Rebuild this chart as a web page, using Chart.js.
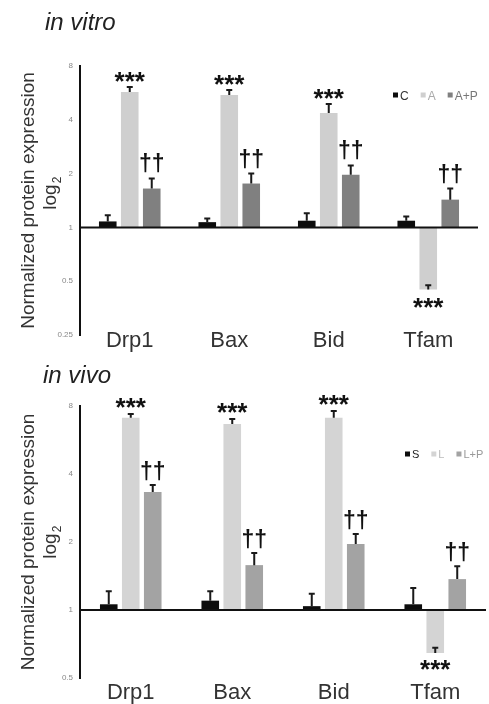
<!DOCTYPE html>
<html><head><meta charset="utf-8">
<script src="https://cdn.jsdelivr.net/npm/chart.js@4.4.1/dist/chart.umd.min.js"></script>
<style>
html,body{margin:0;padding:0;background:#fff;width:489px;height:704px;overflow:hidden}
canvas{position:absolute;left:0}
#c1{top:0}
#c2{top:355px}
</style></head><body>
<canvas id="c1" width="489" height="355"></canvas>
<canvas id="c2" width="489" height="349"></canvas>
<script>
const categories = ['Drp1', 'Bax', 'Bid', 'Tfam'];

// in vitro
const vitroSeries = ['C', 'A', 'A+P'];
const vitroC = [1.08, 1.07, 1.09, 1.09];
const vitroCErr = [1.17, 1.12, 1.20, 1.15];
const vitroA = [5.73, 5.5, 4.37, 0.45];
const vitroAErr = [6.1, 5.88, 4.9, 0.475];
const vitroAP = [1.65, 1.76, 1.97, 1.43];
const vitroAPErr = [1.88, 2.0, 2.22, 1.65];
const vitroAMarks = ['***', '***', '***', '***'];
const vitroAPMarks = ['††', '††', '††', '††'];
const vitroTicks = [0.25, 0.5, 1, 2, 4, 8];

// in vivo
const vivoSeries = ['S', 'L', 'L+P'];
const vivoS = [1.06, 1.10, 1.04, 1.06];
const vivoSErr = [1.21, 1.21, 1.18, 1.25];
const vivoL = [7.1, 6.66, 7.1, 0.645];
const vivoLErr = [7.37, 7.0, 7.6, 0.68];
const vivoLP = [3.33, 1.58, 1.96, 1.37];
const vivoLPErr = [3.58, 1.79, 2.17, 1.56];
const vivoLMarks = ['***', '***', '***', '***'];
const vivoLPMarks = ['††', '††', '††', '††'];
const vivoTicks = [0.5, 1, 2, 4, 8];

const FONT = '"Liberation Sans", Arial, sans-serif';

function textAt(ctx, txt, x, cy, mode) {
  const m = ctx.measureText(txt);
  let base;
  if (mode === 'center') base = cy + (m.actualBoundingBoxAscent - m.actualBoundingBoxDescent) / 2;
  else base = cy - m.actualBoundingBoxDescent; // cy = bottom of glyphs
  ctx.fillText(txt, x, base);
}

const decor = {
  id: 'decor',
  afterDatasetsDraw(chart, args, o) {
    const ctx = chart.ctx, y = chart.scales.y, x = chart.scales.x, ca = chart.chartArea;
    ctx.save();
    // horizontal line at 1
    const b = y.getPixelForValue(1);
    ctx.strokeStyle = '#111'; ctx.lineWidth = 2;
    ctx.beginPath(); ctx.moveTo(ca.left, b); ctx.lineTo(ca.right, b); ctx.stroke();
    chart.data.datasets.forEach((ds, i) => {
      const meta = chart.getDatasetMeta(i);
      meta.data.forEach((el, j) => {
        const ep = y.getPixelForValue(ds.err[j]);
        ctx.strokeStyle = '#1a1a1a'; ctx.lineWidth = 2;
        ctx.beginPath();
        ctx.moveTo(el.x, el.y); ctx.lineTo(el.x, ep);
        ctx.moveTo(el.x - 3, ep); ctx.lineTo(el.x + 3, ep);
        ctx.stroke();
        const mk = ds.marks && ds.marks[j];
        if (mk) {
          ctx.fillStyle = '#111'; ctx.textAlign = 'center';
          const v = ds.data[j];
          if (mk.indexOf('*') >= 0) {
            ctx.font = 'bold 26px ' + FONT;
            if (v >= 1) textAt(ctx, mk, el.x, Math.min(ep, el.y) - o.starGap, 'center');
            else textAt(ctx, mk, el.x, el.y + o.starBelow, 'center');
          } else {
            ctx.font = 'bold 23px ' + FONT;
            textAt(ctx, mk, el.x, Math.min(ep, el.y) - o.dagGap, 'bottom');
          }
        }
      });
    });
    ctx.restore();
  },
  afterDraw(chart, args, o) {
    const ctx = chart.ctx, x = chart.scales.x, y = chart.scales.y;
    ctx.save();
    // category labels
    ctx.fillStyle = '#333'; ctx.font = '22px ' + FONT; ctx.textAlign = 'center'; ctx.textBaseline = 'alphabetic';
    chart.data.labels.forEach((l, i) => ctx.fillText(l, x.getPixelForValue(i), o.labelY));
    // title
    ctx.fillStyle = '#222'; ctx.font = 'italic 24px ' + FONT; ctx.textAlign = 'left';
    ctx.fillText(o.title, o.titleX, o.titleY);
    // y title
    const cy = (y.top + y.bottom) / 2 + o.yTitleShift;
    ctx.save();
    ctx.translate(34, cy); ctx.rotate(-Math.PI / 2);
    ctx.fillStyle = '#333'; ctx.font = '19px ' + FONT; ctx.textAlign = 'center';
    ctx.fillText('Normalized protein expression', 0, 0);
    ctx.restore();
    ctx.save();
    ctx.translate(56, o.logY); ctx.rotate(-Math.PI / 2);
    ctx.fillStyle = '#333'; ctx.font = '19px ' + FONT; ctx.textAlign = 'left';
    const w = ctx.measureText('log').width;
    ctx.fillText('log', -((w + 8) / 2), 0);
    ctx.font = '12px ' + FONT;
    ctx.fillText('2', -((w + 8) / 2) + w + 1, 5);
    ctx.restore();
    // legend
    let lx = o.legX;
    ctx.font = o.legFont + 'px ' + FONT; ctx.textAlign = 'left';
    chart.data.datasets.forEach((ds, i) => {
      ctx.fillStyle = ds.backgroundColor;
      ctx.fillRect(lx, o.legY - 2.5, 5, 5);
      lx += 7;
      ctx.fillStyle = o.legText[i];
      textAt(ctx, ds.label, lx, o.legY, 'center');
      lx += ctx.measureText(ds.label).width + o.legGap;
    });
    ctx.restore();
  }
};

function makeChart(id, series, vals, errs, marks, colors, ticks, opt) {
  return new Chart(document.getElementById(id), {
    type: 'bar',
    data: {
      labels: categories,
      datasets: series.map((s, i) => ({
        label: s, data: vals[i], err: errs[i], marks: marks[i],
        backgroundColor: colors[i], base: 1,
        barPercentage: 0.8, categoryPercentage: opt.cp, borderWidth: 0
      }))
    },
    options: {
      responsive: false, animation: false, devicePixelRatio: 1,
      layout: { padding: opt.padding },
      plugins: {
        legend: { display: false }, tooltip: { enabled: false }, title: { display: false },
        decor: opt.decor
      },
      scales: {
        x: { display: false, offset: true, grid: { display: false } },
        y: {
          type: 'logarithmic', min: ticks[0], max: ticks[ticks.length - 1],
          afterBuildTicks: s => { s.ticks = ticks.map(v => ({ value: v })); },
          afterFit: s => { s.width = 80; },
          grid: { display: false, drawTicks: false },
          border: { display: true, color: '#111', width: 2 },
          ticks: { padding: 7, color: '#888', font: { size: 8, family: FONT }, callback: v => String(v) }
        }
      }
    },
    plugins: [decor]
  });
}

makeChart('c1', vitroSeries, [vitroC, vitroA, vitroAP], [vitroCErr, vitroAErr, vitroAPErr],
  [null, vitroAMarks, vitroAPMarks], ['#0d0d0d', '#cfcfcf', '#808080'], vitroTicks, {
    cp: 0.663,
    padding: { left: 0, right: 11, top: 66, bottom: 20 },
    decor: { starGap: 10, starBelow: 14, dagGap: 5, labelY: 347, title: 'in vitro', titleX: 45, titleY: 30,
      yTitleShift: 0, logY: 193, legX: 393, legY: 95, legFont: 12, legGap: 12,
      legText: ['#333', '#aaa', '#777'] }
  });

makeChart('c2', vivoSeries, [vivoS, vivoL, vivoLP], [vivoSErr, vivoLErr, vivoLPErr],
  [null, vivoLMarks, vivoLPMarks], ['#0d0d0d', '#d4d4d4', '#a3a3a3'], vivoTicks, {
    cp: 0.65,
    padding: { left: 0, right: 3, top: 51, bottom: 26 },
    decor: { starGap: 11, starBelow: 12, dagGap: 4, labelY: 344, title: 'in vivo', titleX: 43, titleY: 28,
      yTitleShift: 0, logY: 187, legX: 405, legY: 99, legFont: 11, legGap: 12,
      legText: ['#222', '#bbb', '#999'] }
  });
</script>
</body></html>
